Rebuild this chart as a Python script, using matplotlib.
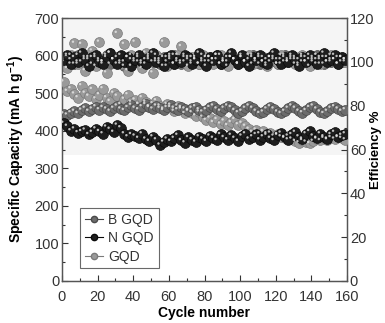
import matplotlib
matplotlib.use("Agg")
import matplotlib.pyplot as plt
from matplotlib.transforms import offset_copy
from matplotlib.ticker import MultipleLocator

plt.rcParams['font.family'] = ['Liberation Sans', 'DejaVu Sans']

cycles = list(range(1, 160, 2))

n_cap = [420, 412, 400, 405, 395, 398, 402, 390, 396, 405,
         398, 392, 410, 404, 396, 415, 408, 392, 384, 390,
         386, 380, 392, 378, 372, 384, 376, 362, 370, 378,
         372, 380, 388, 374, 368, 382, 376, 370, 384, 378,
         372, 386, 380, 374, 390, 382, 376, 388, 380, 372,
         386, 392, 378, 384, 390, 376, 384, 392, 380, 374,
         388, 394, 382, 376, 390, 396, 384, 378, 392, 398,
         386, 380, 392, 384, 378, 390, 396, 382, 388, 392]

b_cap = [445, 442, 448, 452, 446, 455, 460, 452, 458, 464,
         456, 462, 458, 452, 460, 466, 458, 454, 462, 468,
         460, 456, 464, 470, 462, 458, 466, 460, 454, 462,
         468, 460, 456, 462, 458, 452, 460, 464, 456, 450,
         456, 462, 466, 458, 452, 460, 466, 462, 454, 448,
         452, 460, 466, 460, 452, 446, 450, 458, 464, 458,
         450, 446, 452, 460, 466, 460, 452, 448, 454, 462,
         466, 458, 450, 446, 452, 460, 464, 458, 452, 456]

g_cap = [530, 505, 512, 498, 488, 520, 500, 492, 510, 485,
         496, 512, 488, 478, 500, 492, 470, 484, 496, 476,
         482, 470, 488, 476, 464, 472, 480, 466, 458, 470,
         462, 452, 466, 458, 446, 454, 448, 440, 450, 436,
         428, 434, 422, 430, 418, 426, 414, 422, 430, 416,
         420, 412, 404, 396, 402, 392, 398, 388, 394, 386,
         390, 384, 380, 386, 378, 372, 368, 374, 370, 366,
         372, 378, 374, 380, 376, 382, 378, 384, 380, 376]

n_eff = [101, 103, 99, 102, 100, 104, 101, 98, 102, 103,
         100, 99, 102, 104, 101, 99, 103, 100, 102, 98,
         101, 103, 100, 99, 102, 104, 100, 101, 98, 102,
         103, 99, 101, 100, 103, 102, 99, 101, 104, 100,
         98, 102, 101, 103, 99, 100, 102, 104, 101, 99,
         103, 100, 98, 102, 101, 103, 100, 99, 102, 104,
         101, 99, 102, 100, 103, 101, 98, 102, 100, 103,
         101, 99, 102, 104, 100, 101, 103, 99, 102, 101]

b_eff = [100, 102, 101, 99, 103, 100, 102, 101, 99, 102,
         101, 100, 103, 99, 101, 102, 100, 98, 102, 101,
         100, 102, 99, 101, 103, 100, 101, 99, 102, 100,
         101, 103, 100, 99, 102, 101, 100, 102, 99, 101,
         102, 100, 101, 103, 99, 101, 100, 102, 101, 99,
         102, 100, 101, 103, 100, 99, 102, 101, 100, 102,
         99, 101, 103, 100, 101, 102, 99, 100, 102, 101,
         100, 103, 101, 99, 102, 100, 101, 102, 100, 101]

g_eff = [100, 97, 103, 108.5, 99, 108, 96, 102, 105, 98,
         109, 100, 95, 104, 101, 113, 99, 108, 96, 103,
         109, 100, 97, 104, 101, 95, 103, 100, 109, 98,
         102, 99, 103, 107, 100, 98, 102, 101, 99, 103,
         100, 102, 99, 101, 103, 100, 98, 102, 101, 99,
         102, 100, 103, 99, 101, 102, 100, 98, 102, 101,
         99, 103, 100, 101, 102, 99, 101, 103, 100, 98,
         102, 101, 99, 102, 100, 103, 101, 99, 102, 100]

labels = ['B GQD', 'N GQD', 'GQD']
face = {'B GQD': '#6c6c6c', 'N GQD': '#1e1e1e', 'GQD': '#9a9a9a'}
edge = {'B GQD': '#4a4a4a', 'N GQD': '#0a0a0a', 'GQD': '#7a7a7a'}

fig = plt.figure(figsize=(3.85, 3.23), dpi=100)
ax = fig.add_axes([62/385, 42/323, 285/385, 263/323])
ax2 = ax.twinx()
ax.set_zorder(ax2.get_zorder() + 1)
ax.patch.set_visible(False)

S = 50
HL = offset_copy(ax.transData, fig=fig, x=-1.5, y=1.5, units='dots')
HL2 = offset_copy(ax2.transData, fig=fig, x=-1.5, y=1.5, units='dots')

def balls(a, tr, x, y, name):
    a.scatter(x, y, s=S, c=face[name], edgecolors=edge[name], linewidths=0.5, zorder=3)
    a.scatter(x, y, s=3, c='#e8e8e8', edgecolors='none', alpha=0.8, zorder=4, transform=tr)

# efficiency on right axis
ax2.axhspan(57.5, 120, color='#f5f5f5', zorder=0, lw=0)
balls(ax2, HL2, cycles, b_eff, 'B GQD')
balls(ax2, HL2, cycles, g_eff, 'GQD')
balls(ax2, HL2, cycles, n_eff, 'N GQD')

# capacity on left axis
balls(ax, HL, cycles, g_cap, 'GQD')
balls(ax, HL, cycles, b_cap, 'B GQD')
balls(ax, HL, cycles, n_cap, 'N GQD')

ax.set_xlim(0, 160)
ax.set_ylim(0, 700)
ax2.set_ylim(0, 120)
ax.xaxis.set_major_locator(MultipleLocator(20))
ax.xaxis.set_minor_locator(MultipleLocator(10))
ax.yaxis.set_major_locator(MultipleLocator(100))
ax.yaxis.set_minor_locator(MultipleLocator(50))
ax2.yaxis.set_major_locator(MultipleLocator(20))
ax2.yaxis.set_minor_locator(MultipleLocator(10))

for a in (ax, ax2):
    a.tick_params(which='both', direction='in', labelsize=10.5, colors='#333333', width=0.8)
    a.tick_params(which='major', length=4)
    a.tick_params(which='minor', length=2.5)
    for sp in a.spines.values():
        sp.set_color('#555555')
        sp.set_linewidth(0.9)
ax.tick_params(axis='x', pad=6.5)
ax.tick_params(axis='y', which='both', right=False, pad=2)
ax2.tick_params(axis='y', which='both', left=False, right=True, pad=2)

ax.set_xlabel('Cycle number', fontsize=10, fontweight='bold')
ax.xaxis.set_label_coords(0.5, -0.095)
ax.set_ylabel('Specific Capacity (mA h g$^{\\mathregular{-1}}$)', fontsize=10, fontweight='bold')
ax.yaxis.set_label_coords(-0.122, 0.5)
ax2.set_ylabel('Efficiency %', fontsize=9.5, fontweight='bold')
ax2.yaxis.set_label_coords(1.082, 0.5)

handles = []
for name in labels:
    h, = ax.plot([], [], '-', color=edge[name], lw=0.8, marker='o', ms=4.5,
                 mfc=face[name], mec=edge[name])
    handles.append(h)
leg = ax.legend(handles, labels, loc='lower left', bbox_to_anchor=(0.063, 0.048),
                fontsize=10, frameon=True, fancybox=False, edgecolor='#444444',
                handlelength=1.3, handletextpad=0.4, labelspacing=0.3,
                borderpad=0.35, borderaxespad=0)
leg.get_frame().set_linewidth(0.8)
for t in leg.get_texts():
    t.set_color('#333333')

fig.savefig('out.png', dpi=100)
